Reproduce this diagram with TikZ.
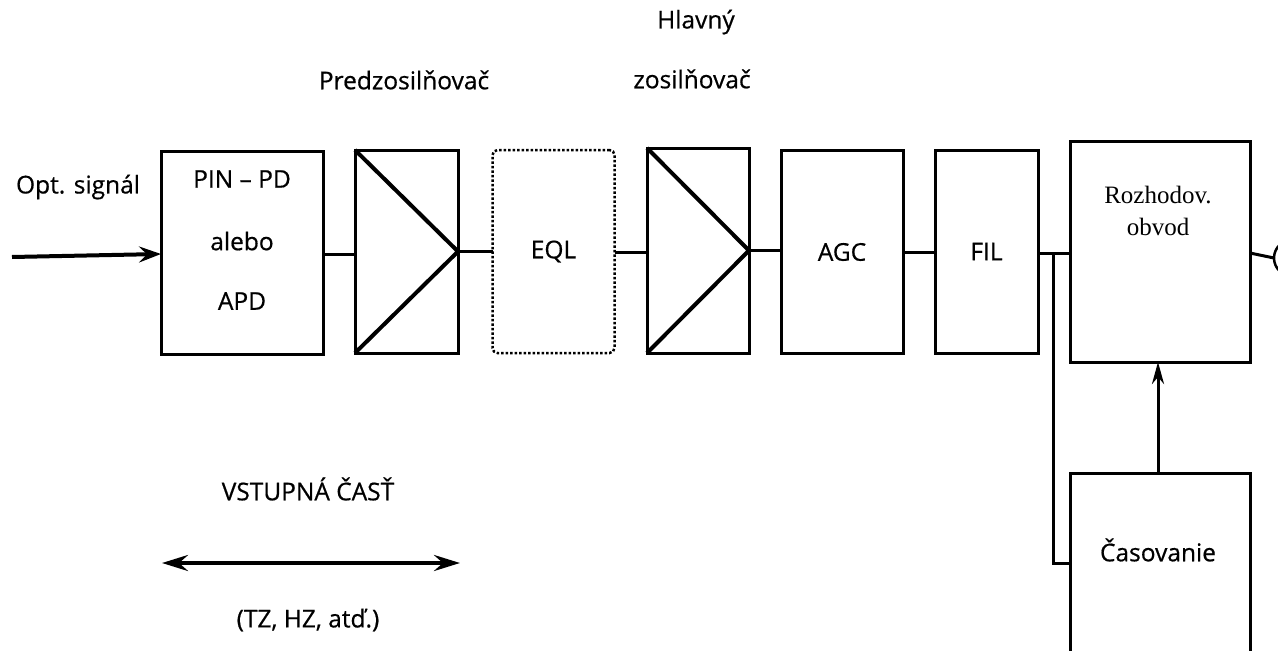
\documentclass[tikz,border=0pt]{standalone}
\usepackage{fontspec}
\setmainfont{Open Sans}[FakeBold=0.6]
\newfontfamily\labelface{Open Sans}[FakeBold=0.6]
\newfontfamily\serifface{Liberation Serif}
\usetikzlibrary{arrows.meta}
\begin{document}
\begin{tikzpicture}[x=1pt,y=-1pt,
  every node/.style={inner sep=0pt,outer sep=0pt},
  lbl/.style={font=\labelface\fontsize{24.5}{30}\selectfont},
  blk/.style={draw,line width=3pt,minimum width=#1,minimum height=203pt,font=\labelface\fontsize{24.5}{30}\selectfont},
  wire/.style={line width=3pt},
  tri/.style={line width=4pt},
  bigarrow/.style={line width=4pt,-{Stealth[length=22pt,width=16pt,inset=8pt]}},
  thinarrow/.style={line width=3pt,-{Stealth[length=22pt,width=12pt,inset=7pt]}}]
\clip (0,0) rectangle (1278,651);
\fill[white] (0,0) rectangle (1278,651);

% top captions
\node[lbl] (cappre) at (404,80) {Predzosilňovač};
\node[lbl] (capmain1) at (696,22) {Hlavný};
\node[lbl] (capmain2) at (692,79) {zosilňovač};
\node[lbl] (capin) at (78,187) {Opt. signál};

% signal chain
\node[blk=162pt] (pin) at (242,252.5) {};
\node[lbl] (pin1) at (242,179) {PIN – PD};
\node[lbl] (pin2) at (242,241) {alebo};
\node[lbl] (pin3) at (242,301) {APD};

\node[blk=103pt] (pre) at (406.5,251.5) {};
\draw[tri] (pre.north west) -- (pre.east) -- (pre.south west);

\node[draw,line width=2.5pt,dotted,rounded corners=5pt,minimum width=122pt,minimum height=203pt,
      font=\labelface\fontsize{24.5}{30}\selectfont] (eql) at (553.5,251.5) {EQL};

\node[blk=102pt,minimum height=205pt] (main) at (698,250.5) {};
\draw[tri] (main.north west) -- (main.east) -- (main.south west);

\node[blk=122pt] (agc) at (842,252) {AGC};
\node[blk=103pt] (fil) at (986.5,251.5) {FIL};

\node[draw,line width=3pt,minimum width=180pt,minimum height=221pt] (dec) at (1160,251.5) {};
\node[font=\serifface\fontsize{25}{30}\selectfont,align=center] (dectext) at (1158,211) {Rozhodov.\\[2pt]obvod};

\node[draw,line width=3pt,minimum width=180pt,minimum height=260pt] (clk) at (1160,603) {};
\node[lbl] (clktext) at (1158,550) {Časovanie};

\node[draw,line width=2.5pt,circle,minimum size=36pt] (out) at (1292,258) {};

% connectors
\coordinate (src) at (12,257);
\draw[bigarrow] (src) -- (pin.west |- 0,254);
\draw[wire] (pin.east |- 0,254) -- (pre.west |- 0,254);
\draw[wire] (pre.east) -- (eql.west |- pre.east);
\draw[wire] (main.west |- 0,252) -- (eql.east |- 0,252);
\draw[wire] (main.east) -- (agc.west |- main.east);
\draw[wire] (agc.east |- 0,252) -- (fil.west |- 0,252);
\draw[wire] (fil.east |- 0,253) -- (dec.west |- 0,253);
\coordinate (tap) at (1053,253);
\draw[wire] (tap) |- (clk.west |- 0,563);
\draw[thinarrow] (clk.north -| 1158,0) -- (dec.south -| 1158,0);
\draw[wire] (dec.east |- 0,253) -- (out.west);

% span of the input section
\coordinate (spanl) at (162,563);
\coordinate (spanr) at (460,563);
\draw[line width=4pt,{Stealth[length=26pt,width=16pt,inset=9pt]}-{Stealth[length=26pt,width=16pt,inset=9pt]}] (spanl) -- (spanr);
\node[lbl] (spantitle) at (308,489) {VSTUPNÁ ČASŤ};
\node[lbl] (spannote) at (308,620) {(TZ, HZ, atď.)};
\end{tikzpicture}
\end{document}
